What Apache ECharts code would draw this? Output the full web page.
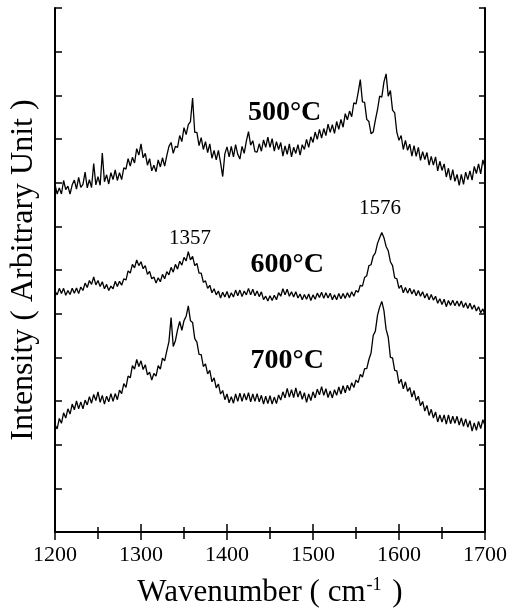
<!DOCTYPE html>
<html>
<head>
<meta charset="utf-8">
<script src="https://cdn.jsdelivr.net/npm/echarts@6/dist/echarts.min.js"></script>
<style>
html,body{margin:0;padding:0;background:#fff;}
#chart{width:518px;height:614px;}
</style>
</head>
<body>
<div id="chart"></div>
<script>
// Wavenumber sampling (cm^-1), 2.5 cm^-1 steps
const wavenumbers = [
1200,1202.5,1205,1207.5,1210,1212.5,1215,1217.5,1220,1222.5,1225,1227.5,1230,1232.5,1235,1237.5,1240,1242.5,1245,1247.5,
1250,1252.5,1255,1257.5,1260,1262.5,1265,1267.5,1270,1272.5,1275,1277.5,1280,1282.5,1285,1287.5,1290,1292.5,1295,1297.5,
1300,1302.5,1305,1307.5,1310,1312.5,1315,1317.5,1320,1322.5,1325,1327.5,1330,1332.5,1335,1337.5,1340,1342.5,1345,1347.5,
1350,1352.5,1355,1357.5,1360,1362.5,1365,1367.5,1370,1372.5,1375,1377.5,1380,1382.5,1385,1387.5,1390,1392.5,1395,1397.5,
1400,1402.5,1405,1407.5,1410,1412.5,1415,1417.5,1420,1422.5,1425,1427.5,1430,1432.5,1435,1437.5,1440,1442.5,1445,1447.5,
1450,1452.5,1455,1457.5,1460,1462.5,1465,1467.5,1470,1472.5,1475,1477.5,1480,1482.5,1485,1487.5,1490,1492.5,1495,1497.5,
1500,1502.5,1505,1507.5,1510,1512.5,1515,1517.5,1520,1522.5,1525,1527.5,1530,1532.5,1535,1537.5,1540,1542.5,1545,1547.5,
1550,1552.5,1555,1557.5,1560,1562.5,1565,1567.5,1570,1572.5,1575,1577.5,1580,1582.5,1585,1587.5,1590,1592.5,1595,1597.5,
1600,1602.5,1605,1607.5,1610,1612.5,1615,1617.5,1620,1622.5,1625,1627.5,1630,1632.5,1635,1637.5,1640,1642.5,1645,1647.5,
1650,1652.5,1655,1657.5,1660,1662.5,1665,1667.5,1670,1672.5,1675,1677.5,1680,1682.5,1685,1687.5,1690,1692.5,1695,1697.5,
1700];

// Intensity (arbitrary units, spectra offset vertically)
const spectrum500 = [
7.96,7.74,7.88,7.74,8.05,7.84,7.92,7.74,7.95,8.06,7.85,8.12,7.89,7.96,8.24,7.88,8.07,7.89,8.44,7.95,
8.14,7.94,8.68,8.02,8.18,7.97,8.23,8.07,8.29,8.05,8.23,8.07,8.34,8.31,8.55,8.38,8.58,8.45,8.78,8.63,
8.89,8.57,8.67,8.40,8.55,8.27,8.40,8.25,8.52,8.36,8.57,8.38,8.62,8.83,8.92,8.67,8.83,8.81,9.08,8.94,
9.26,9.10,9.33,9.40,9.94,9.15,9.15,8.85,9.03,8.76,8.94,8.69,8.89,8.56,8.74,8.52,8.74,8.46,8.14,8.66,
8.82,8.59,8.83,8.59,8.87,8.65,8.54,8.83,8.67,8.95,9.17,8.86,8.96,8.71,8.70,8.89,8.72,8.98,8.81,9.04,
8.81,9.01,8.72,8.94,8.76,8.92,8.61,8.84,8.65,8.89,8.59,8.81,8.67,8.87,8.63,8.87,8.76,8.99,8.81,9.05,
8.92,9.16,8.99,9.22,9.02,9.24,9.08,9.34,9.15,9.33,9.13,9.40,9.22,9.45,9.27,9.58,9.44,9.64,9.51,9.83,
9.80,10.06,10.36,9.85,9.84,9.45,9.40,9.12,9.16,9.43,9.67,9.98,9.96,10.31,10.49,9.98,10.11,9.66,9.60,9.15,
8.97,9.08,8.76,8.97,8.74,8.88,8.61,8.85,8.60,8.81,8.51,8.71,8.53,8.69,8.40,8.60,8.40,8.59,8.27,8.49,
8.28,8.43,8.13,8.33,8.06,8.30,8.03,8.19,7.94,8.19,7.96,8.24,8.07,8.27,8.06,8.37,8.21,8.43,8.20,8.52,
8.35];

const spectrum600 = [
5.52,5.43,5.58,5.46,5.58,5.42,5.53,5.44,5.58,5.47,5.59,5.46,5.61,5.53,5.70,5.60,5.76,5.67,5.84,5.66,
5.76,5.62,5.73,5.57,5.67,5.53,5.63,5.57,5.74,5.62,5.74,5.65,5.80,5.77,5.98,5.93,6.13,6.05,6.23,6.10,
6.19,6.03,6.10,5.90,5.97,5.80,5.84,5.70,5.82,5.73,5.90,5.80,5.96,5.89,6.06,5.95,6.13,6.02,6.20,6.11,
6.29,6.21,6.42,6.23,6.31,6.10,6.15,5.93,5.93,5.72,5.75,5.58,5.65,5.48,5.57,5.43,5.52,5.36,5.49,5.38,
5.51,5.36,5.48,5.38,5.54,5.41,5.54,5.39,5.52,5.43,5.58,5.43,5.56,5.41,5.52,5.39,5.50,5.32,5.40,5.29,
5.41,5.30,5.42,5.32,5.48,5.40,5.57,5.43,5.56,5.40,5.50,5.38,5.50,5.36,5.45,5.32,5.44,5.33,5.45,5.30,
5.43,5.33,5.47,5.37,5.49,5.35,5.48,5.36,5.47,5.32,5.43,5.32,5.46,5.34,5.46,5.35,5.48,5.37,5.50,5.40,
5.53,5.49,5.65,5.63,5.83,5.87,6.10,6.12,6.32,6.39,6.61,6.74,6.86,6.74,6.54,6.44,6.19,6.10,5.82,5.80,
5.58,5.65,5.48,5.60,5.47,5.58,5.45,5.55,5.41,5.53,5.40,5.50,5.36,5.46,5.32,5.44,5.31,5.40,5.24,5.34,
5.21,5.33,5.16,5.30,5.19,5.31,5.18,5.29,5.17,5.29,5.14,5.25,5.12,5.24,5.10,5.20,5.06,5.16,5.02,5.11,
4.96];

const spectrum700 = [
2.46,2.36,2.60,2.49,2.73,2.61,2.82,2.70,2.93,2.80,3.00,2.82,2.98,2.82,3.02,2.91,3.10,2.95,3.15,3.01,
3.21,2.97,3.13,2.93,3.11,2.98,3.17,2.99,3.17,3.03,3.25,3.17,3.40,3.31,3.57,3.53,3.81,3.73,3.95,3.79,
3.92,3.72,3.83,3.60,3.66,3.48,3.63,3.57,3.81,3.73,3.98,3.92,4.15,4.36,4.91,4.25,4.38,4.63,4.82,4.62,
4.84,4.94,5.18,4.84,4.80,4.43,4.35,4.07,4.06,3.79,3.85,3.62,3.70,3.44,3.53,3.30,3.39,3.16,3.24,3.03,
3.16,2.96,3.10,2.95,3.16,2.99,3.18,2.99,3.17,3.02,3.19,2.98,3.16,2.99,3.17,2.98,3.13,2.93,3.11,2.94,
3.12,2.93,3.09,2.94,3.14,3.02,3.21,3.07,3.29,3.09,3.26,3.08,3.30,3.09,3.23,3.04,3.19,2.97,3.16,3.01,
3.21,3.07,3.27,3.14,3.33,3.13,3.28,3.08,3.23,3.07,3.26,3.13,3.32,3.16,3.35,3.19,3.36,3.24,3.42,3.31,
3.48,3.42,3.61,3.55,3.74,3.74,3.95,4.10,4.50,4.60,4.96,5.15,5.28,5.07,4.64,4.46,4.00,3.99,3.70,3.69,
3.40,3.50,3.28,3.44,3.22,3.31,3.09,3.24,3.01,3.11,2.89,2.99,2.77,2.90,2.67,2.81,2.61,2.75,2.52,2.68,
2.52,2.68,2.47,2.68,2.48,2.65,2.49,2.65,2.45,2.61,2.42,2.59,2.40,2.55,2.31,2.50,2.33,2.53,2.37,2.57,
2.44];

// Annotations: [wavenumber, intensity, text, kind]
const annotations = [
  [1467, 9.59, '500°C', 'temp'],
  [1470, 6.11, '600°C', 'temp'],
  [1470, 3.92, '700°C', 'temp'],
  [1357, 6.73, '1357', 'peak'],
  [1578, 7.40, '1576', 'peak']
];

const xTicks = {min: 1200, max: 1700, interval: 100};
const yTicks = {min: 0, max: 12, interval: 1};

const serif = 'Liberation Serif';
const chart = echarts.init(document.getElementById('chart'), null, {renderer: 'canvas'});

function pairs(ys){ return wavenumbers.map((w,i)=>[w, ys[i]]); }

const axisLine = {show: true, lineStyle: {color: '#000', width: 2}};
const tick = (len)=>({show: true, inside: true, length: len, lineStyle: {color: '#000', width: 1.5}});

const lineSeries = (name, ys) => ({
  name, type: 'line', data: pairs(ys), showSymbol: false, symbol: 'none',
  lineStyle: {color: '#000', width: 1.3}, silent: true, animation: false,
  xAxisIndex: 0, yAxisIndex: 0
});

chart.setOption({
  backgroundColor: '#fff',
  animation: false,
  grid: {left: 55, right: 33, top: 8, bottom: 82, containLabel: false, outerBoundsMode: 'none'},
  xAxis: [
    {type: 'value', position: 'bottom', min: xTicks.min, max: xTicks.max, interval: xTicks.interval,
     axisLine, axisTick: tick(8), minorTick: {show: true, splitNumber: 2, length: 5, lineStyle: {color: '#000', width: 1.5}},
     splitLine: {show: false},
     axisLabel: {color: '#000', fontFamily: serif, fontSize: 22, margin: 12, formatter: v => String(v)},
     name: '{a|Wavenumber ( cm}{s|-1}{a| )}', nameLocation: 'middle', nameGap: 44,
     nameTextStyle: {rich: {
       a: {fontFamily: serif, fontSize: 31, color: '#000'},
       s: {fontFamily: serif, fontSize: 18, color: '#000', padding: [0, 3, 15, 1]}
     }}},
    {type: 'value', position: 'top', min: xTicks.min, max: xTicks.max, interval: xTicks.interval,
     axisLine, axisTick: tick(8), minorTick: {show: true, splitNumber: 2, length: 7, lineStyle: {color: '#000', width: 1.5}},
     splitLine: {show: false}, axisLabel: {show: false}}
  ],
  yAxis: [
    {type: 'value', position: 'left', min: yTicks.min, max: yTicks.max, interval: yTicks.interval,
     axisLine, axisTick: tick(7), splitLine: {show: false}, axisLabel: {show: false},
     name: 'Intensity ( Arbitrary Unit )', nameLocation: 'middle', nameGap: 15,
     nameTextStyle: {fontFamily: serif, fontSize: 32, color: '#000'}},
    {type: 'value', position: 'right', min: yTicks.min, max: yTicks.max, interval: yTicks.interval,
     axisLine, axisTick: tick(6), splitLine: {show: false}, axisLabel: {show: false}}
  ],
  series: [
    lineSeries('500°C', spectrum500),
    lineSeries('600°C', spectrum600),
    lineSeries('700°C', spectrum700),
    {
      type: 'scatter', silent: true, symbolSize: 0, animation: false,
      itemStyle: {opacity: 1, color: '#000'},
      data: annotations.map(a => ({value: [a[0], a[1]], name: a[2],
        label: a[3] === 'temp'
          ? {fontFamily: serif, fontSize: 28, fontWeight: 'bold', color: '#000'}
          : {fontFamily: serif, fontSize: 21, color: '#000'}})),
      label: {show: true, position: 'inside', formatter: p => p.name,
              textBorderWidth: 0, textBorderColor: 'transparent'},
      z: 10
    }
  ]
});
</script>
</body>
</html>
